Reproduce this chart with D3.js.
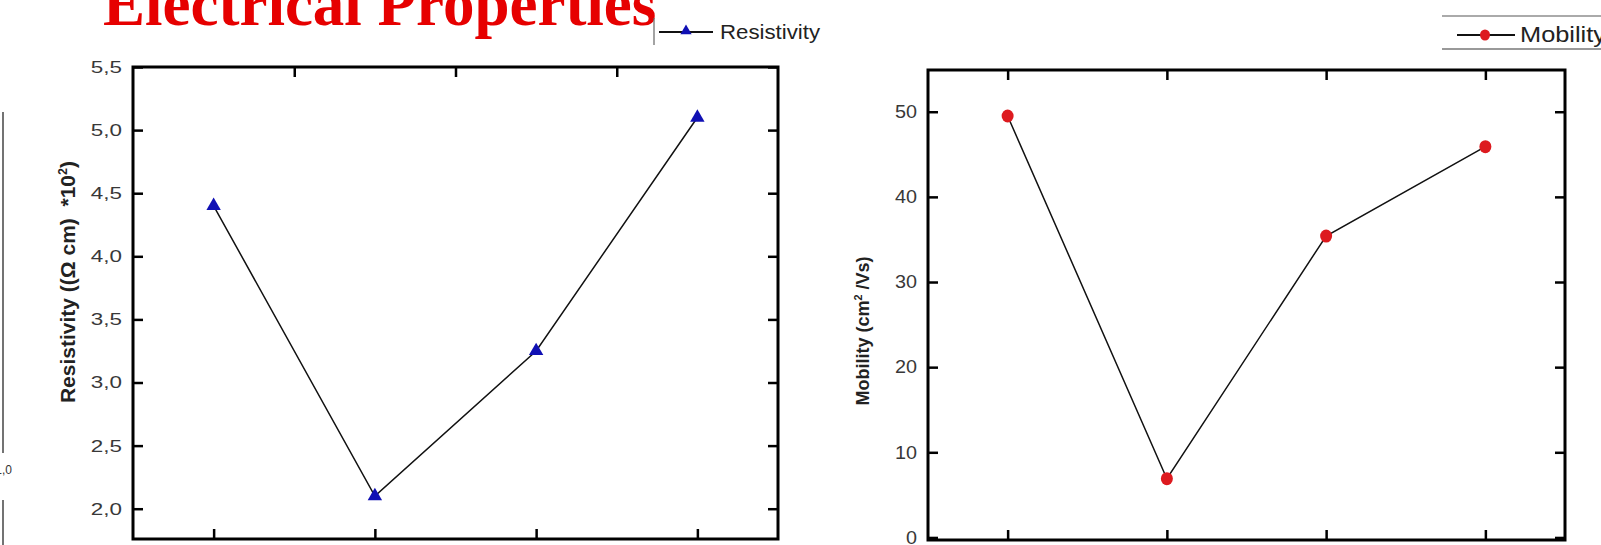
<!DOCTYPE html>
<html>
<head>
<meta charset="utf-8">
<script src="https://cdn.jsdelivr.net/npm/d3@7.8.5/dist/d3.min.js"></script>
<style>
  body { margin: 0; background: #fff; }
  svg { display: block; font-family: "Liberation Sans", Arial, sans-serif; }
  .tick text { fill: #383838; }
  .y-left .tick text {
    transform-box: fill-box;
    transform-origin: 100% 50%;
  }
  .res .y-left .tick text { font-size: 17px; transform: scaleX(1.32); }
  .mob .y-left .tick text { font-size: 18px; transform: scaleX(1.1); }
</style>
</head>
<body>
<div id="chart"></div>
<script>
// sample positions along x (the x labels are cut off in the source)
const samples = [1, 2, 3, 4];
const resistivity = [4.4, 2.1, 3.25, 5.1];
const mobility = [49.5, 6.9, 35.4, 45.9];
const resistivityTicks = [2.0, 2.5, 3.0, 3.5, 4.0, 4.5, 5.0, 5.5];
const mobilityTicks = [0, 10, 20, 30, 40, 50];

const width = 1601;
const height = 545;

const svg = d3
  .select("#chart")
  .append("svg")
  .attr("width", width)
  .attr("height", height)
  .attr("viewBox", `0 0 ${width} ${height}`);

svg.append("rect").attr("width", width).attr("height", height).attr("fill", "#fff");

// slide title, cut off at the top
svg
  .append("text")
  .attr("x", 103)
  .attr("y", 25)
  .style("font-family", '"Liberation Serif", "Times New Roman", serif')
  .style("font-weight", "bold")
  .style("font-size", "63px")
  .style("fill", "#e60000")
  .text("Electrical Properties");

// edge of a neighbouring chart on the far left
svg
  .append("line")
  .attr("x1", 3).attr("x2", 3).attr("y1", 112).attr("y2", 453)
  .attr("stroke", "#444").attr("stroke-width", 1.5);
svg
  .append("line")
  .attr("x1", 3).attr("x2", 3).attr("y1", 500).attr("y2", 545)
  .attr("stroke", "#444").attr("stroke-width", 1.5);
svg
  .append("text")
  .attr("x", 12)
  .attr("y", 474)
  .attr("text-anchor", "end")
  .style("font-size", "12px")
  .style("fill", "#333")
  .text("1,0");

function drawPanel(cfg) {
  const g = svg.append("g").attr("class", cfg.cls);
  const { left, right, top, bottom } = cfg.box;

  const x = d3.scaleLinear().domain([0.5, samples.length + 0.5]).range([left, right]);
  const y = d3.scaleLinear().domain(cfg.yDomain).range([bottom, top]);

  const styleTicks = (sel) => {
    sel.select(".domain").remove();
    sel.selectAll(".tick line").attr("stroke", "#000").attr("stroke-width", 2.5);
  };

  g.append("g")
    .attr("class", "y-left")
    .attr("transform", `translate(${left},0)`)
    .call(
      d3.axisLeft(y)
        .tickValues(cfg.yTicks)
        .tickSizeInner(-10)
        .tickSizeOuter(0)
        .tickPadding(11)
        .tickFormat(cfg.format),
    )
    .call(styleTicks)
    .selectAll(".tick text")
    .style("font-family", '"Liberation Sans", Arial, sans-serif');

  g.append("g")
    .attr("transform", `translate(${right},0)`)
    .call(d3.axisRight(y).tickValues(cfg.yTicks).tickSizeInner(-10).tickSizeOuter(0).tickFormat(""))
    .call(styleTicks);

  g.append("g")
    .attr("transform", `translate(0,${bottom})`)
    .call(d3.axisBottom(x).tickValues(samples).tickSizeInner(-10).tickSizeOuter(0).tickFormat(""))
    .call(styleTicks);

  g.append("g")
    .attr("transform", `translate(0,${top})`)
    .call(d3.axisTop(x).tickValues(cfg.topTicks).tickSizeInner(-10).tickSizeOuter(0).tickFormat(""))
    .call(styleTicks);

  g.append("rect")
    .attr("x", left)
    .attr("y", top)
    .attr("width", right - left)
    .attr("height", bottom - top)
    .attr("fill", "none")
    .attr("stroke", "#000")
    .attr("stroke-width", 3);

  const line = d3
    .line()
    .x((d, i) => x(samples[i]))
    .y((d) => y(d));

  g.append("path")
    .datum(cfg.values)
    .attr("d", line)
    .attr("fill", "none")
    .attr("stroke", "#111")
    .attr("stroke-width", 1.5);

  if (cfg.marker === "triangle") {
    g.selectAll(".pt")
      .data(cfg.values)
      .enter()
      .append("path")
      .attr("d", d3.symbol(d3.symbolTriangle, 90))
      .attr("transform", (d, i) => `translate(${x(samples[i])},${y(d)})`)
      .attr("fill", cfg.color);
  } else {
    g.selectAll(".pt")
      .data(cfg.values)
      .enter()
      .append("ellipse")
      .attr("cx", (d, i) => x(samples[i]))
      .attr("cy", (d) => y(d))
      .attr("rx", 6)
      .attr("ry", 6.5)
      .attr("fill", cfg.color);
  }

  // rotated y-axis title
  const label = g
    .append("text")
    .attr("transform", `translate(${cfg.labelX},${cfg.labelY}) rotate(-90)`)
    .attr("text-anchor", "middle")
    .style("font-weight", "bold")
    .style("font-size", cfg.labelSize + "px")
    .style("fill", "#222")
    .style("white-space", "pre");
  label.append("tspan").text(cfg.label[0]);
  label.append("tspan").attr("dy", -cfg.labelSize * 0.4).style("font-size", cfg.labelSize * 0.6 + "px").text(cfg.label[1]);
  label.append("tspan").attr("dy", cfg.labelSize * 0.4).text(cfg.label[2]);

  return { x, y };
}

drawPanel({
  cls: "res",
  box: { left: 133, right: 778, top: 67, bottom: 539 },
  yDomain: [1.76, 5.5],
  yTicks: resistivityTicks,
  format: (d) => d3.format(".1f")(d).replace(".", ","),
  topTicks: [1.5, 2.5, 3.5],
  values: resistivity,
  marker: "triangle",
  color: "#1010b4",
  label: ["Resistivity ((\u03A9 cm)  *10", "2", ")"],
  labelX: 75,
  labelY: 282,
  labelSize: 21,
});

drawPanel({
  cls: "mob",
  box: { left: 928, right: 1565, top: 70, bottom: 540 },
  yDomain: [-0.3, 54.9],
  yTicks: mobilityTicks,
  format: d3.format("d"),
  topTicks: samples,
  values: mobility,
  marker: "circle",
  color: "#dd1a1f",
  label: ["Mobility (cm", "2", " /Vs)"],
  labelX: 869,
  labelY: 331,
  labelSize: 18,
});

// legend: resistivity
const legRes = svg.append("g");
legRes.append("line")
  .attr("x1", 654).attr("x2", 654).attr("y1", 18).attr("y2", 45)
  .attr("stroke", "#666").attr("stroke-width", 1.2);
legRes.append("line")
  .attr("x1", 659).attr("x2", 713).attr("y1", 32).attr("y2", 32)
  .attr("stroke", "#111").attr("stroke-width", 2);
legRes.append("path")
  .attr("d", d3.symbol(d3.symbolTriangle, 55))
  .attr("transform", "translate(686,31)")
  .attr("fill", "#1010b4");
legRes.append("text")
  .attr("x", 720)
  .attr("y", 38.5)
  .style("font-size", "20px")
  .style("fill", "#222")
  .attr("textLength", 100)
  .attr("lengthAdjust", "spacingAndGlyphs")
  .text("Resistivity");

// legend: mobility
const legMob = svg.append("g");
legMob.append("line")
  .attr("x1", 1442).attr("x2", 1601).attr("y1", 16).attr("y2", 16)
  .attr("stroke", "#aaa").attr("stroke-width", 2);
legMob.append("line")
  .attr("x1", 1442).attr("x2", 1601).attr("y1", 49).attr("y2", 49)
  .attr("stroke", "#999").attr("stroke-width", 2);
legMob.append("line")
  .attr("x1", 1457).attr("x2", 1515).attr("y1", 35).attr("y2", 35)
  .attr("stroke", "#111").attr("stroke-width", 2);
legMob.append("ellipse")
  .attr("cx", 1485).attr("cy", 35).attr("rx", 5).attr("ry", 5.5)
  .attr("fill", "#dd1a1f");
legMob.append("text")
  .attr("x", 1520)
  .attr("y", 42)
  .style("font-size", "22px")
  .style("fill", "#222")
  .attr("textLength", 86)
  .attr("lengthAdjust", "spacingAndGlyphs")
  .text("Mobility");
</script>
</body>
</html>
